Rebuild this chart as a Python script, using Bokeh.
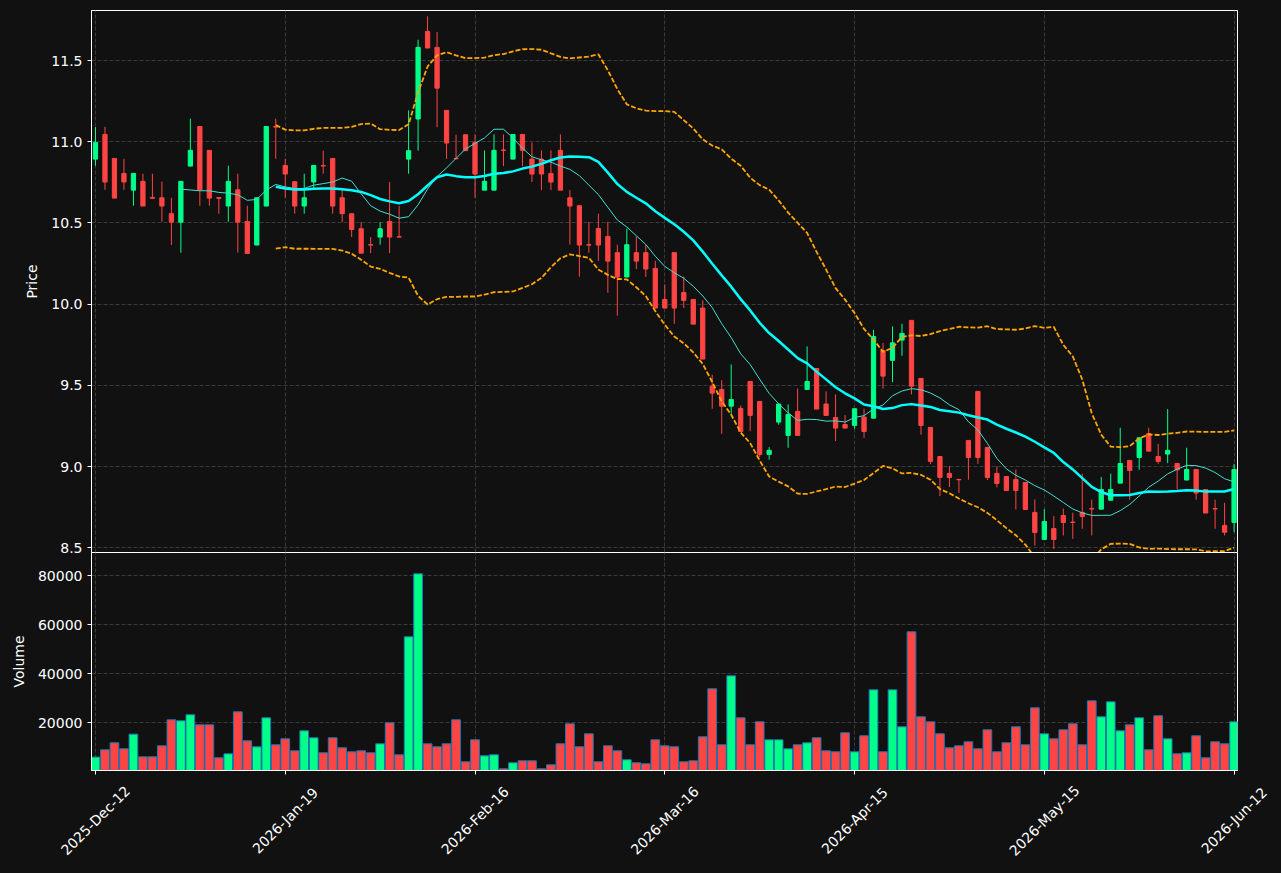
import numpy as np
import pandas as pd
from math import pi
from bokeh.plotting import figure
from bokeh.models import ColumnDataSource, Range1d, FixedTicker, NumeralTickFormatter
from bokeh.core.properties import value
from bokeh.layouts import column
from bokeh.embed import file_html
from bokeh.resources import INLINE

# ---- data ----
opens = [10.893, 11.045, 10.897, 10.805, 10.702, 10.756, 10.656, 10.655, 10.557, 10.505,
         10.850, 11.094, 10.947, 10.656, 10.604, 10.704, 10.509, 10.364, 10.604, 11.094,
         10.854, 10.754, 10.604, 10.752, 10.853, 10.897, 10.655, 10.557, 10.464, 10.366,
         10.413, 10.509, 10.415, 10.893, 11.140, 11.679, 11.581, 11.193, 10.897, 11.043,
         10.996, 10.702, 10.702, 10.949, 10.893, 11.045, 10.893, 10.893, 10.805, 10.947,
         10.655, 10.606, 10.366, 10.466, 10.417, 10.317, 10.167, 10.317, 10.317, 10.220,
         10.029, 10.317, 10.072, 10.029, 9.976, 9.495, 9.475, 9.372, 9.358, 9.524,
         9.401, 9.075, 9.274, 9.192, 9.340, 9.475, 9.604, 9.385, 9.302, 9.259,
         9.253, 9.305, 9.298, 9.715, 9.654, 9.779, 9.900, 9.543, 9.241, 9.062,
         8.958, 8.921, 9.161, 9.463, 9.118, 8.958, 8.939, 8.921, 8.902, 8.718,
         8.551, 8.619, 8.699, 8.658, 8.718, 8.741, 8.738, 8.793, 8.898, 9.038,
         9.056, 9.202, 9.062, 9.077, 9.019, 8.917, 8.982, 8.859, 8.741, 8.638,
         8.656]
highs = [11.090, 11.092, 10.897, 10.895, 10.805, 10.803, 10.803, 10.754, 10.655, 10.756,
         11.142, 11.094, 10.947, 10.656, 10.852, 10.803, 10.606, 10.655, 11.094, 11.142,
         10.895, 10.754, 10.803, 10.854, 10.945, 10.897, 10.704, 10.557, 10.505, 10.413,
         10.505, 10.752, 10.604, 11.193, 11.628, 11.772, 11.675, 11.193, 11.043, 11.043,
         11.045, 10.947, 11.045, 11.045, 11.045, 11.045, 10.996, 10.947, 10.947, 11.045,
         10.702, 10.606, 10.507, 10.557, 10.507, 10.366, 10.466, 10.417, 10.366, 10.267,
         10.121, 10.317, 10.171, 10.029, 10.023, 9.565, 9.532, 9.629, 9.376, 9.524,
         9.401, 9.120, 9.385, 9.383, 9.481, 9.740, 9.604, 9.463, 9.444, 9.317,
         9.356, 9.356, 9.842, 9.762, 9.863, 9.879, 9.900, 9.543, 9.241, 9.062,
         9.003, 8.921, 9.161, 9.463, 9.118, 9.001, 8.939, 8.982, 8.902, 8.798,
         8.738, 8.695, 8.742, 8.716, 8.956, 8.796, 8.935, 8.956, 9.239, 9.038,
         9.177, 9.239, 9.140, 9.354, 9.019, 9.116, 8.982, 8.859, 8.796, 8.777,
         9.017]
lows = [10.852, 10.704, 10.653, 10.704, 10.606, 10.604, 10.652, 10.507, 10.364, 10.317,
        10.850, 10.606, 10.606, 10.557, 10.507, 10.317, 10.312, 10.364, 10.604, 10.895,
        10.655, 10.557, 10.557, 10.704, 10.803, 10.557, 10.505, 10.413, 10.314, 10.314,
        10.366, 10.314, 10.413, 10.803, 10.945, 11.577, 11.090, 10.895, 10.895, 10.945,
        10.655, 10.702, 10.702, 10.850, 10.893, 10.850, 10.752, 10.702, 10.702, 10.702,
        10.366, 10.169, 10.317, 10.267, 10.070, 9.929, 10.167, 10.216, 10.167, 9.976,
        9.976, 9.879, 9.976, 9.877, 9.662, 9.356, 9.202, 9.325, 9.216, 9.218,
        9.060, 9.043, 9.258, 9.116, 9.192, 9.475, 9.354, 9.315, 9.157, 9.237,
        9.233, 9.177, 9.298, 9.479, 9.520, 9.682, 9.444, 9.196, 9.015, 8.818,
        8.874, 8.837, 8.919, 9.017, 8.917, 8.872, 8.853, 8.736, 8.736, 8.514,
        8.551, 8.492, 8.576, 8.555, 8.617, 8.576, 8.738, 8.793, 8.898, 8.796,
        8.980, 9.095, 9.017, 9.021, 8.859, 8.917, 8.796, 8.714, 8.617, 8.576,
        8.596]
closes = [10.996, 10.752, 10.653, 10.752, 10.805, 10.604, 10.652, 10.604, 10.505, 10.756,
          10.947, 10.704, 10.653, 10.652, 10.756, 10.505, 10.312, 10.655, 11.094, 11.090,
          10.801, 10.604, 10.655, 10.854, 10.851, 10.604, 10.557, 10.460, 10.314, 10.364,
          10.464, 10.413, 10.413, 10.945, 11.581, 11.577, 11.330, 10.992, 10.895, 10.945,
          10.801, 10.756, 10.947, 10.947, 11.045, 10.947, 10.801, 10.801, 10.752, 10.702,
          10.604, 10.364, 10.364, 10.364, 10.265, 10.167, 10.366, 10.265, 10.216, 9.976,
          9.976, 9.976, 10.023, 9.877, 9.662, 9.452, 9.372, 9.413, 9.216, 9.315,
          9.075, 9.100, 9.385, 9.321, 9.192, 9.524, 9.354, 9.315, 9.237, 9.237,
          9.356, 9.216, 9.801, 9.557, 9.762, 9.820, 9.495, 9.253, 9.032, 8.933,
          8.933, 8.919, 9.056, 9.056, 8.933, 8.896, 8.853, 8.853, 8.736, 8.594,
          8.662, 8.551, 8.656, 8.656, 8.693, 8.739, 8.859, 8.859, 9.019, 8.976,
          9.177, 9.095, 9.032, 9.100, 8.980, 8.982, 8.837, 8.714, 8.739, 8.596,
          8.982]
volumes = [5990, 8980, 11840, 9390, 15375, 6120, 6120, 10610, 21220, 20820,
           23270, 19180, 19180, 5710, 7350, 24490, 12650, 10200, 22040, 11020,
           13470, 8570, 16730, 13880, 7760, 13880, 9800, 8160, 8570, 7760,
           11430, 20000, 6940, 55100, 80810, 11430, 10200, 11430, 21220, 4080,
           13060, 6530, 6940, 1220, 3670, 4490, 4490, 1220, 2860, 11430,
           19590, 10200, 15510, 4080, 10610, 8570, 4900, 3670, 3260, 13060,
           10610, 10200, 4080, 4490, 14290, 33880, 11020, 39180, 22040, 11020,
           20410, 13060, 13060, 9390, 11020, 11840, 13880, 8570, 8160, 15920,
           8160, 14700, 33470, 8160, 33470, 18370, 57140, 22450, 20410, 15510,
           9800, 10610, 12240, 9390, 17140, 8160, 11840, 18370, 11020, 26120,
           15510, 13470, 17140, 19590, 11020, 28980, 22450, 28570, 16730, 19180,
           22040, 8980, 22860, 13470, 7350, 7760, 14700, 5710, 12240, 11430,
           20410]
date_labels = ["2025-Dec-12", "2026-Jan-19", "2026-Feb-16", "2026-Mar-16",
               "2026-Apr-15", "2026-May-15", "2026-Jun-12"]
date_label_index = [0, 20, 40, 60, 80, 100, 120]
price_ticks = [8.5, 9.0, 9.5, 10.0, 10.5, 11.0, 11.5]
volume_ticks = [20000, 40000, 60000, 80000]

# ---- derived indicators ----
cs = pd.Series(closes)
ma10 = cs.rolling(10).mean()
ma20 = cs.rolling(20).mean()
sd20 = cs.rolling(20).std(ddof=0)
upper = ma20 + 2 * sd20
lower = ma20 - 2 * sd20

UP = "#00ff88"
DOWN = "#ff4444"
BG = "#111111"
GRID = "#3a3a3a"
FONT = "DejaVu Sans"

W = 1281
LEFT, RIGHT = 91, 44          # frame borders (px)

colors = [UP if c >= o else DOWN for o, c in zip(opens, closes)]
src = ColumnDataSource(dict(
    x=list(range(len(closes))),
    open=opens, high=highs, low=lows, close=closes,
    top=[max(o, c) for o, c in zip(opens, closes)],
    bottom=[min(o, c) for o, c in zip(opens, closes)],
    color=colors, volume=volumes,
    ma10=ma10.to_numpy(), ma20=ma20.to_numpy(),
    upper=upper.to_numpy(), lower=lower.to_numpy(),
))

xr = Range1d(-0.42, 120.36)


def style_axis(ax):
    ax.axis_line_color = "white"
    ax.major_tick_line_color = "white"
    ax.major_tick_out = 4
    ax.major_tick_in = 0
    ax.minor_tick_line_color = None
    ax.major_label_text_color = "white"
    ax.major_label_text_font = FONT
    ax.major_label_text_font_size = "14px"
    ax.major_label_standoff = 5
    ax.axis_label_text_color = "white"
    ax.axis_label_text_font = FONT
    ax.axis_label_text_font_size = "14px"
    ax.axis_label_text_font_style = "normal"
    ax.axis_label_standoff = 8


def style_grid(g):
    g.grid_line_color = GRID
    g.grid_line_dash = "4 2"
    g.grid_line_width = 1


# price panel: frame 10..552, canvas extends 8px lower so the bottom tick label is not cut
p = figure(width=W, height=560, x_range=xr, y_range=Range1d(8.471, 11.808),
           output_backend="svg", toolbar_location=None, x_axis_location=None,
           min_border_left=LEFT, min_border_right=RIGHT, min_border_top=10, min_border_bottom=8,
           background_fill_color=BG, border_fill_color=BG, outline_line_color="white")
p.yaxis.ticker = FixedTicker(ticks=price_ticks)
p.yaxis.formatter = NumeralTickFormatter(format="0.0")
p.yaxis.axis_label = "Price"
style_axis(p.yaxis[0])
p.xgrid.ticker = FixedTicker(ticks=date_label_index)
style_grid(p.xgrid[0])
style_grid(p.ygrid[0])

p.segment(x0="x", y0="high", x1="x", y1="low", color="color", line_width=1, source=src)
p.vbar(x="x", width=0.45, top="top", bottom="bottom", fill_color="color",
       line_color="color", line_width=1, source=src)
p.line("x", "upper", color="#ffa500", line_width=1.8, line_dash="5 2", source=src)
p.line("x", "lower", color="#ffa500", line_width=1.8, line_dash="5 2", source=src)
p.line("x", "ma10", color="#40e0d0", line_width=1, source=src)
p.line("x", "ma20", color="#00ffff", line_width=2.5, source=src)

# volume panel: frame 552..770, overlaps price canvas by 8px (transparent border)
v = figure(width=W, height=248, x_range=xr, y_range=Range1d(530, 89510),
           output_backend="svg", toolbar_location=None,
           min_border_left=LEFT, min_border_right=RIGHT, min_border_top=0, min_border_bottom=30,
           background_fill_color=BG, border_fill_color=BG, border_fill_alpha=0,
           outline_line_color="white", styles={"margin-top": "-8px"})
v.yaxis.ticker = FixedTicker(ticks=volume_ticks)
v.yaxis.formatter = NumeralTickFormatter(format="0")
v.yaxis.axis_label = "Volume"
v.xaxis.ticker = FixedTicker(ticks=date_label_index)
style_axis(v.yaxis[0])
style_axis(v.xaxis[0])
v.xaxis.major_label_overrides = {i: "" for i in date_label_index}
v.xaxis.major_label_standoff = 0
style_grid(v.xgrid[0])
style_grid(v.ygrid[0])

v.vbar(x="x", width=0.92, top="volume", bottom=0, fill_color="color",
       line_color="#1f77b4", line_width=1, source=src)

# strip for the rotated date labels, centred on the ticks (same x scale as the panels)
frame_w = W - LEFT - RIGHT
upp = (xr.end - xr.start) / frame_w
lx = Range1d(xr.start - LEFT * upp, xr.end + RIGHT * upp)
STRIP_H = 97
lab_fig = figure(width=W, height=STRIP_H, x_range=lx, y_range=Range1d(0, STRIP_H),
                 output_backend="svg", toolbar_location=None,
                 x_axis_location=None, y_axis_location=None,
                 min_border=0, min_border_left=0, min_border_right=0,
                 min_border_top=0, min_border_bottom=0,
                 background_fill_color=BG, border_fill_color=BG, outline_line_color=None,
                 styles={"margin-top": "-24px"})
lab_fig.xgrid.visible = False
lab_fig.ygrid.visible = False
lab_src = ColumnDataSource(dict(x=date_label_index, text=date_labels))
lab_fig.text(x="x", y=STRIP_H - 44, text="text", source=lab_src,
             angle=pi / 4, text_align="center", text_baseline="middle",
             text_color="white", text_font=value(FONT), text_font_size=value("14px"))

layout = column(p, v, spacing=0, styles={"background-color": BG})
html = file_html([layout, lab_fig], INLINE)
html = html.replace("<head>", "<head><style>html,body{margin:0;padding:0;background:#111111;}</style>", 1)
open("out.html", "w").write(html)
